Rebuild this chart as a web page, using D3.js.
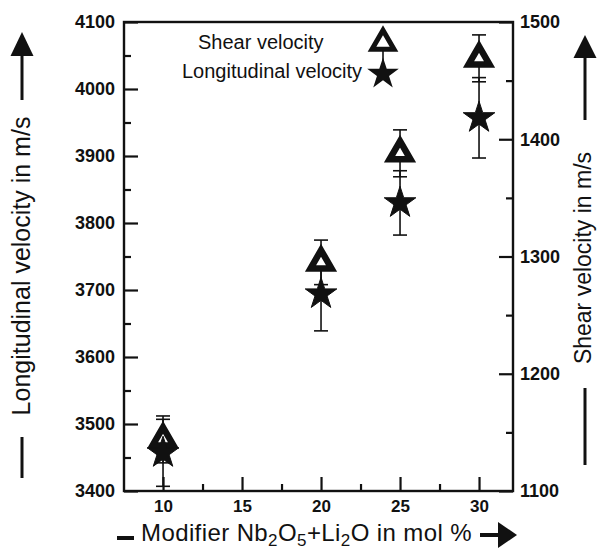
<!DOCTYPE html>
<html>
<head>
<meta charset="utf-8">
<script src="https://cdn.jsdelivr.net/npm/d3@7"></script>
<style>
  body { margin: 0; background: #fff; }
  svg { display: block; font-family: "Liberation Sans", Arial, sans-serif; }
</style>
</head>
<body>
<div id="chart"></div>
<script>
// values
const modifier = [10, 20, 25, 30];                 // mol %
const longitudinal = [3457, 3694, 3830, 3957];     // m/s, left axis
const longErr = [50, 55, 48, 60];
const shear = [1144, 1295, 1388, 1469];            // m/s, right axis
const shearErr = [20, 19, 20, 20];

const xMajor = [10, 15, 20, 25, 30];
const xMinor = [12.5, 17.5, 22.5, 27.5];
const leftMajor = [3400, 3500, 3600, 3700, 3800, 3900, 4000, 4100];
const leftMinor = [3450, 3550, 3650, 3750, 3850, 3950, 4050];
const rightMajor = [1100, 1200, 1300, 1400, 1500];
const rightMinor = [1150, 1250, 1350, 1450];

const W = 597, H = 549;
const plot = {left: 124, right: 513, top: 22, bottom: 491};

const svg = d3.select('#chart')
    .append('svg')
    .attr('width', W)
    .attr('height', H);

const x = d3.scaleLinear()
    .domain([7.53, 32.15])
    .range([plot.left, plot.right]);

const yL = d3.scaleLinear()
    .domain([3400, 4100])
    .range([plot.bottom, plot.top]);

const yR = d3.scaleLinear()
    .domain([1100, 1500])
    .range([plot.bottom, plot.top]);

function styleAxis(g) {
    g.select('.domain').remove();
    g.selectAll('.tick line').attr('stroke', '#111').attr('stroke-width', 2.2);
    g.selectAll('.tick text')
        .attr('fill', '#111')
        .style('font-size', '18px')
        .style('font-weight', 'bold');
}

// frame
svg.append('rect')
    .attr('x', plot.left)
    .attr('y', plot.top)
    .attr('width', plot.right - plot.left)
    .attr('height', plot.bottom - plot.top)
    .attr('fill', 'none')
    .attr('stroke', '#111')
    .attr('stroke-width', 2.4);

// bottom axis, ticks pointing in
svg.append('g')
    .attr('transform', `translate(0,${plot.bottom})`)
    .call(d3.axisBottom(x).tickValues(xMajor).tickSize(-14).tickPadding(9).tickFormat(d3.format('d')))
    .call(styleAxis)
    .call(g => g.selectAll('.tick text').style('font-size', '17px'));
svg.append('g')
    .attr('transform', `translate(0,${plot.bottom})`)
    .call(d3.axisBottom(x).tickValues(xMinor).tickSize(-7).tickFormat(''))
    .call(styleAxis);

// left axis
svg.append('g')
    .attr('transform', `translate(${plot.left},0)`)
    .call(d3.axisLeft(yL).tickValues(leftMajor).tickSize(-14).tickPadding(9).tickFormat(d3.format('d')))
    .call(styleAxis);
svg.append('g')
    .attr('transform', `translate(${plot.left},0)`)
    .call(d3.axisLeft(yL).tickValues(leftMinor).tickSize(-7).tickFormat(''))
    .call(styleAxis);

// right axis
svg.append('g')
    .attr('transform', `translate(${plot.right},0)`)
    .call(d3.axisRight(yR).tickValues(rightMajor).tickSize(-14).tickPadding(7).tickFormat(d3.format('d')))
    .call(styleAxis);
svg.append('g')
    .attr('transform', `translate(${plot.right},0)`)
    .call(d3.axisRight(yR).tickValues(rightMinor).tickSize(-7).tickFormat(''))
    .call(styleAxis);

const longData = modifier.map((m, i) => ({m, v: longitudinal[i], e: longErr[i]}));
const shearData = modifier.map((m, i) => ({m, v: shear[i], e: shearErr[i]}));

function errorBars(data, y) {
    const g = svg.append('g').attr('stroke', '#111').attr('stroke-width', 1.6);
    g.selectAll('line.bar')
        .data(data)
        .enter()
        .append('line')
        .attr('class', 'bar')
        .attr('x1', d => x(d.m))
        .attr('x2', d => x(d.m))
        .attr('y1', d => y(d.v - d.e))
        .attr('y2', d => y(d.v + d.e));
    [-1, 1].forEach(s => {
        g.selectAll(null)
            .data(data)
            .enter()
            .append('line')
            .attr('x1', d => x(d.m) - 7)
            .attr('x2', d => x(d.m) + 7)
            .attr('y1', d => y(d.v + s * d.e))
            .attr('y2', d => y(d.v + s * d.e));
    });
}

errorBars(shearData, yR);
errorBars(longData, yL);

const triangle = d3.symbol().type(d3.symbolTriangle).size(190);
const star = d3.symbol().type(d3.symbolStar).size(310);

svg.selectAll('path.shear')
    .data(shearData)
    .enter()
    .append('path')
    .attr('class', 'shear')
    .attr('d', triangle)
    .attr('transform', d => `translate(${x(d.m)},${yR(d.v)})`)
    .attr('fill', '#fff')
    .attr('stroke', '#111')
    .attr('stroke-width', 6.5)
    .attr('stroke-linejoin', 'miter');

svg.selectAll('path.long')
    .data(longData)
    .enter()
    .append('path')
    .attr('class', 'long')
    .attr('d', star)
    .attr('transform', d => `translate(${x(d.m)},${yL(d.v)})`)
    .attr('fill', '#111')
    .attr('stroke', '#111')
    .attr('stroke-width', 1);

// legend
const legend = svg.append('g');
legend.append('line')
    .attr('x1', 383).attr('x2', 383)
    .attr('y1', 46).attr('y2', 64)
    .attr('stroke', '#111').attr('stroke-width', 1.6);
legend.append('path')
    .attr('d', d3.symbol().type(d3.symbolTriangle).size(210))
    .attr('transform', 'translate(383,43)')
    .attr('fill', '#fff')
    .attr('stroke', '#111')
    .attr('stroke-width', 5);
legend.append('path')
    .attr('d', d3.symbol().type(d3.symbolStar).size(310))
    .attr('transform', 'translate(383,74)')
    .attr('fill', '#111');
legend.append('text')
    .attr('x', 198).attr('y', 49)
    .style('font-size', '20px')
    .attr('fill', '#111')
    .text('Shear velocity');
legend.append('text')
    .attr('x', 182).attr('y', 78)
    .style('font-size', '20px')
    .attr('fill', '#111')
    .text('Longitudinal velocity');

// axis titles with their marks and arrows
svg.append('text')
    .attr('transform', 'translate(30,266) rotate(-90)')
    .attr('text-anchor', 'middle')
    .style('font-size', '25px')
    .attr('fill', '#111')
    .text('Longitudinal velocity in m/s');
svg.append('line')
    .attr('x1', 22).attr('x2', 22).attr('y1', 437).attr('y2', 478)
    .attr('stroke', '#111').attr('stroke-width', 3);
svg.append('line')
    .attr('x1', 22).attr('x2', 22).attr('y1', 100).attr('y2', 54)
    .attr('stroke', '#111').attr('stroke-width', 3);
svg.append('path')
    .attr('d', 'M22,32L10.5,56L33.5,56Z')
    .attr('fill', '#111');

svg.append('text')
    .attr('transform', 'translate(591,258) rotate(-90)')
    .attr('text-anchor', 'middle')
    .style('font-size', '23px')
    .attr('fill', '#111')
    .text('Shear velocity in m/s');
svg.append('line')
    .attr('x1', 585).attr('x2', 585).attr('y1', 388).attr('y2', 465)
    .attr('stroke', '#111').attr('stroke-width', 3);
svg.append('line')
    .attr('x1', 585).attr('x2', 585).attr('y1', 120).attr('y2', 56)
    .attr('stroke', '#111').attr('stroke-width', 3);
svg.append('path')
    .attr('d', 'M585,35L573.5,58L596.5,58Z')
    .attr('fill', '#111');

const xt = svg.append('text')
    .attr('x', 141).attr('y', 541)
    .style('font-size', '24px')
    .style('letter-spacing', '0.4px')
    .attr('fill', '#111');
const parts = [['Modifier Nb', 0], ['2', 1], ['O', -1], ['5', 1], ['+Li', -1], ['2', 1], ['O in mol %', -1]];
parts.forEach(([t, s]) => {
    const sp = xt.append('tspan').text(t);
    if (s === 1) sp.attr('dy', 5).style('font-size', '17px');
    if (s === -1) sp.attr('dy', -5);
});
svg.append('line')
    .attr('x1', 117).attr('x2', 134).attr('y1', 538).attr('y2', 538)
    .attr('stroke', '#111').attr('stroke-width', 4);
svg.append('line')
    .attr('x1', 480).attr('x2', 499).attr('y1', 535).attr('y2', 535)
    .attr('stroke', '#111').attr('stroke-width', 4);
svg.append('path')
    .attr('d', 'M498,522L498,548L517,535Z')
    .attr('fill', '#111');
</script>
</body>
</html>
